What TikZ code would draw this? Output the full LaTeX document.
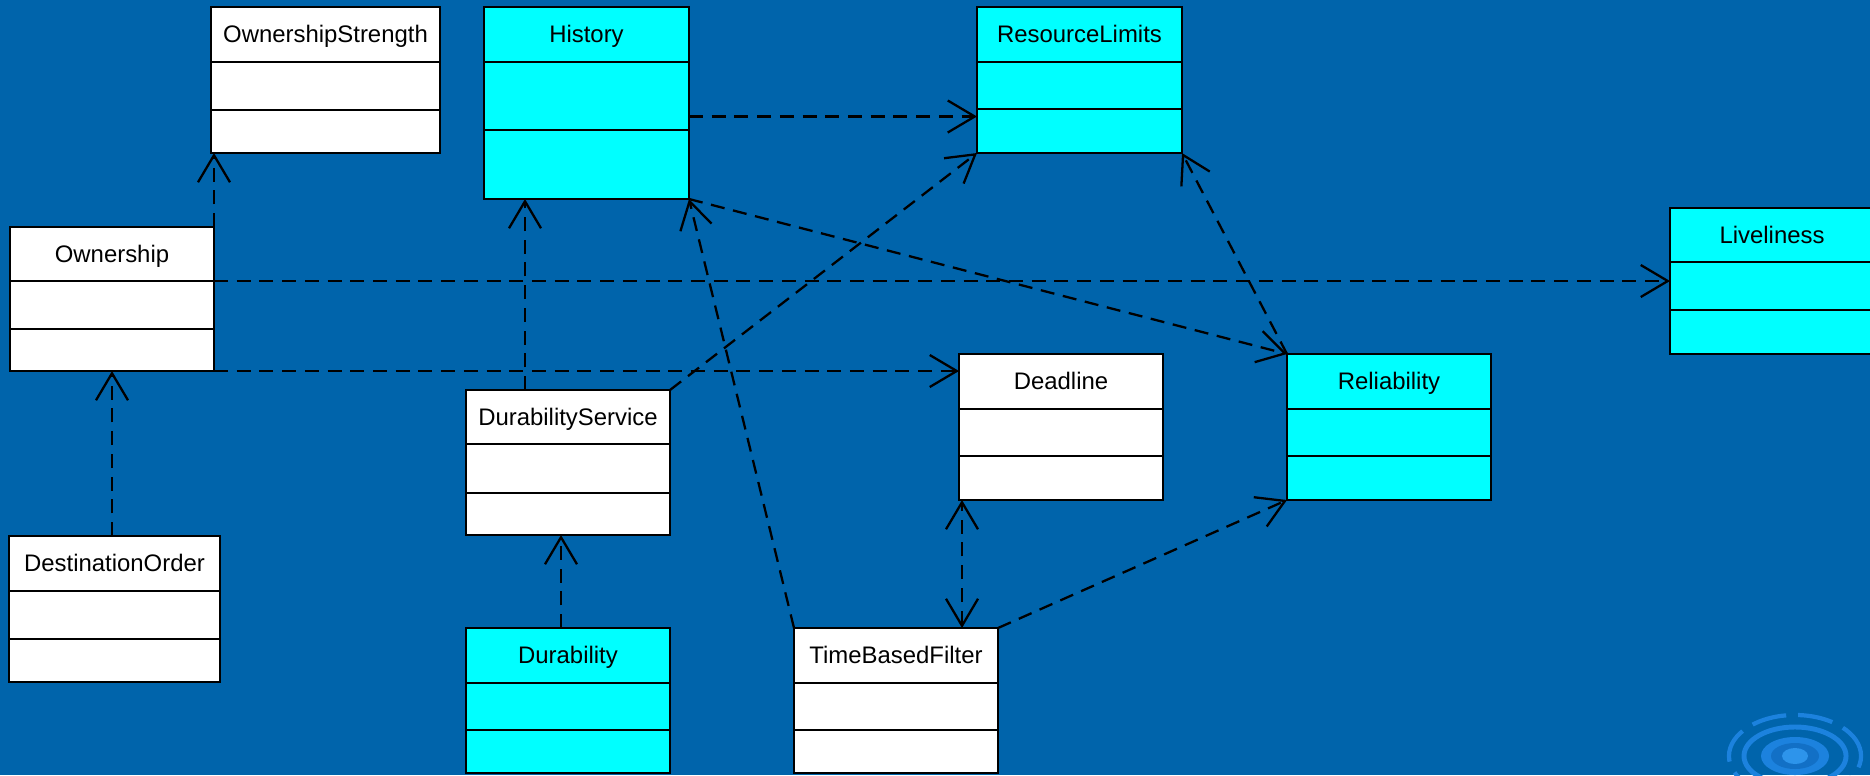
\documentclass[tikz,border=0pt]{standalone}
\usepackage{fontspec}
\setmainfont{Liberation Sans}
\usetikzlibrary{arrows.meta,fit,calc}
\definecolor{bgblue}{RGB}{0,100,171}
\definecolor{boxcyan}{RGB}{0,255,255}
\definecolor{wmA}{RGB}{28,130,222}
\definecolor{wmB}{RGB}{18,112,198}
\definecolor{wmC}{RGB}{45,148,235}
\tikzset{
  classbox/.style={draw=black, line width=0.6pt, inner sep=0pt, outer sep=0pt},
  divline/.style={draw=black, line width=0.6pt},
  titletext/.style={font=\fontsize{6.8}{8}\selectfont, text=black, inner sep=0pt, anchor=base},
  dep/.style={draw=black, line width=0.65pt, dash pattern=on 0.14cm off 0.087cm, ->},
}
\newcommand\umlbox[9]{%
  \node[classbox, fill=#8, fit={(#2,#3) (#4,#5)}] (#1) {};
  \draw[divline] (#2,#6) -- (#4,#6) (#2,#7) -- (#4,#7);
  \node[titletext] (#1-t) at ({(#2+#4)/2},{(#3+#6)/2+8}) {#9};
}
\begin{document}
\begin{tikzpicture}[x=0.01cm, y=-0.01cm, >={Straight Barb[length=2.7mm,width=3.2mm]}]
\useasboundingbox (0,0) rectangle (1870,775);
\clip (0,0) rectangle (1870,775);
\fill[bgblue] (0,0) rectangle (1870,775);

% watermark
\draw[wmA, line width=1.2pt, dash pattern=on 0.35cm off 0.12cm] (1795,756) ellipse [x radius=0.66cm, y radius=0.41cm];
\draw[wmA, line width=1.4pt] (1795,756) ellipse [x radius=0.51cm, y radius=0.29cm];
\fill[wmA] (1795,756) ellipse [x radius=0.34cm, y radius=0.19cm];
\fill[wmB] (1795,756) ellipse [x radius=0.24cm, y radius=0.13cm];
\fill[wmC] (1795,756) ellipse [x radius=0.13cm, y radius=0.08cm];

% classes
\umlbox{os}{211}{7}{440}{153}{62}{110}{white}{OwnershipStrength}
\umlbox{hist}{484}{7}{689}{199}{62}{130}{boxcyan}{History}
\umlbox{rl}{977}{7}{1182}{153}{62}{109}{boxcyan}{ResourceLimits}
\umlbox{own}{10}{227}{214}{371}{281}{329}{white}{Ownership}
\umlbox{live}{1670}{208}{1874}{354}{262}{310}{boxcyan}{Liveliness}
\umlbox{dead}{959}{354}{1163}{500}{409}{456}{white}{Deadline}
\umlbox{rel}{1287}{354}{1491}{500}{409}{456}{boxcyan}{Reliability}
\umlbox{ds}{466}{390}{670}{535}{444}{493}{white}{DurabilityService}
\umlbox{dest}{9}{536}{220}{682}{591}{639}{white}{DestinationOrder}
\umlbox{dur}{466}{628}{670}{773}{683}{730}{boxcyan}{Durability}
\umlbox{tbf}{794}{628}{998}{773}{683}{730}{white}{TimeBasedFilter}

% dependencies
\draw[dep] (own.north east) -- (own.north east |- os.south);
\draw[dep] (own.east |- live.west) -- (live.west);
\draw[dep] (own.south east) -- (own.south east -| dead.west);
\draw[dep] (own.south |- dest.north) -- (own.south);
\coordinate (hs) at ($(hist.south west)!0.2!(hist.south east)$);
\draw[dep] (hs |- ds.north) -- (hs);
\draw[dep] (ds.north east) -- (rl.south west);
\draw[dep] ($(dur.north)+(-7,0)$) -- ($(ds.south)+(-7,0)$);
\draw[dep] (tbf.north west) -- (hist.south east);
\coordinate (dl) at ($(dead.south west)+(3,0)$);
\draw[dep,<->] (dl |- tbf.north) -- (dl);
\draw[dep] (tbf.north east) -- (rel.south west);
\draw[dep] (hist.south east) -- (rel.north west);
\coordinate (rlw) at ($(rl.south west)!0.25!(rl.north west)$);
\draw[dep] (hist.east |- rlw) -- (rlw);
\draw[dep] (rel.north west) -- (rl.south east);
\end{tikzpicture}
\end{document}
